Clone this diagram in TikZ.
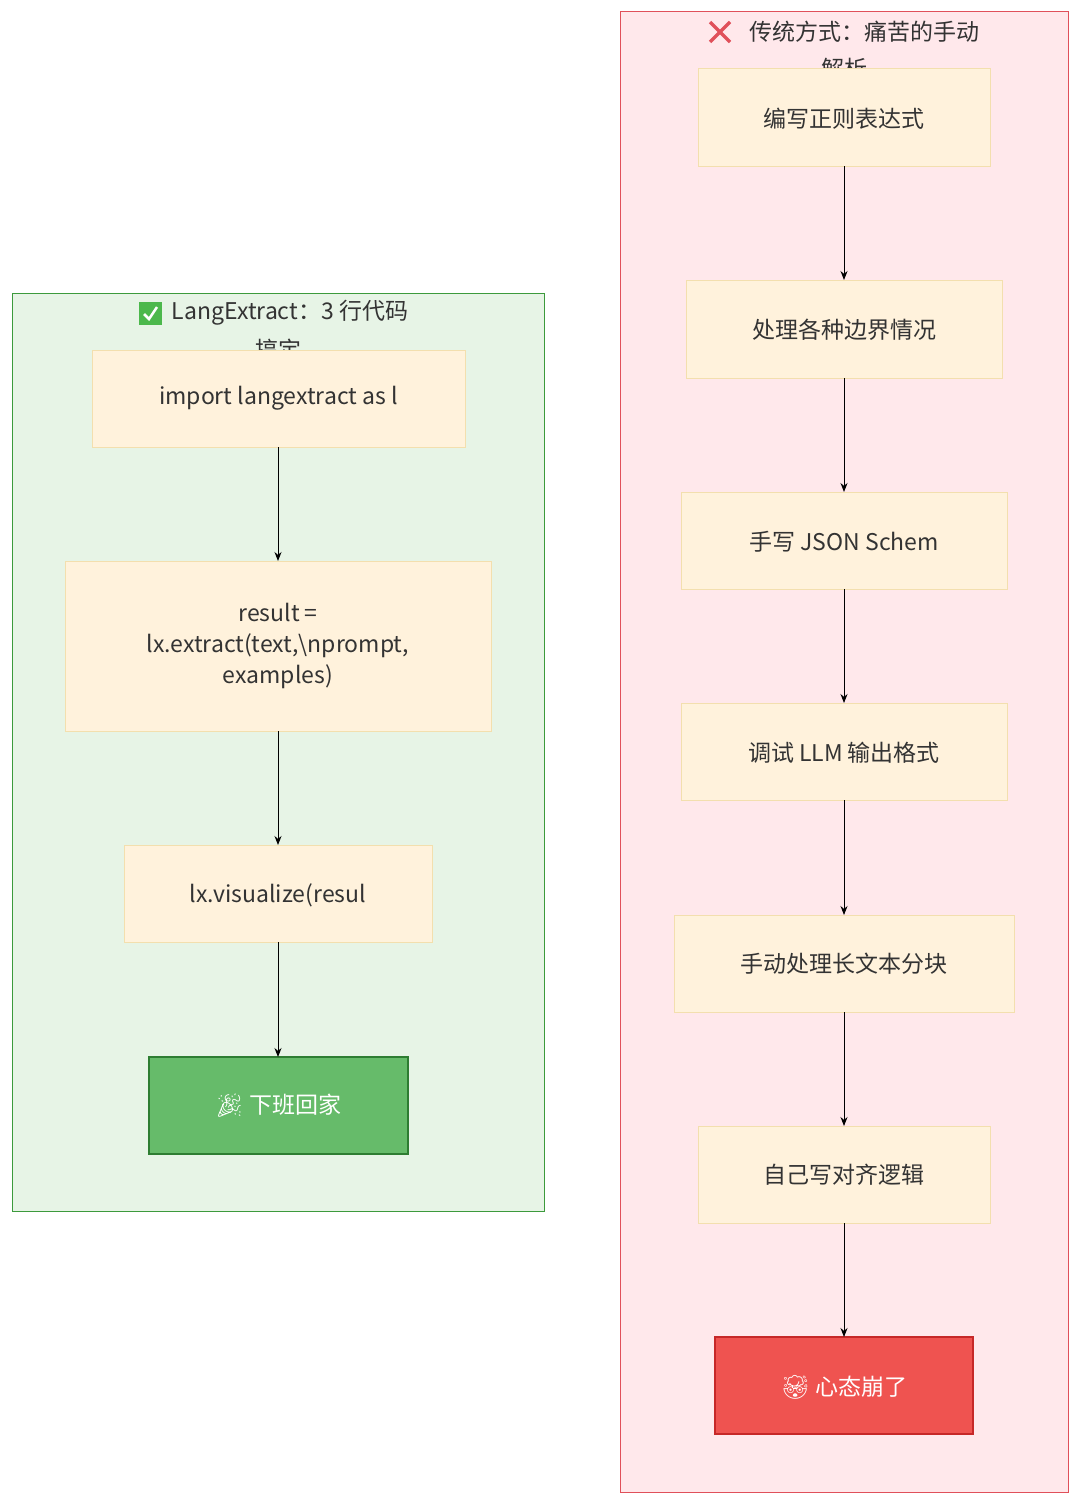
\documentclass[tikz,border=0pt]{standalone}
\usepackage{fontspec}
\setmainfont{Noto Sans CJK SC}
\newfontfamily\emo{Noto Emoji}
\usetikzlibrary{arrows.meta}
\definecolor{nodefill}{HTML}{FFF2DC}
\definecolor{nodeedge}{HTML}{F3DFAE}
\definecolor{gfill}{HTML}{E7F4E6}
\definecolor{gedge}{HTML}{3C9A3C}
\definecolor{rfill}{HTML}{FFE8EB}
\definecolor{redge}{HTML}{E0505A}
\definecolor{okfill}{HTML}{66BB6A}
\definecolor{okedge}{HTML}{2E7D32}
\definecolor{badfill}{HTML}{EF5350}
\definecolor{badedge}{HTML}{C62828}
\begin{document}
\begin{tikzpicture}[x=1pt,y=-1pt,
  box/.style={draw=nodeedge,fill=nodefill,line width=1pt},
  lbl/.style={font=\fontsize{23}{34}\selectfont,text=black!80,align=center},
  arr/.style={-{Stealth[length=9pt,width=7pt]},line width=1pt}]
\useasboundingbox (0,0) rectangle (1080,1504);
\fill[white] (0,0) rectangle (1080,1504);
% containers
\draw[fill=gfill,draw=gedge,line width=1pt] (12,293) rectangle (544,1211);
\draw[fill=rfill,draw=redge,line width=1pt] (620,12) rectangle (1068,1492);
% titles
\node[lbl,anchor=center] (tl) at (290,313) {LangExtract：3 行代码};
\node[lbl] (tl2) at (278,350) {搞定};
\fill[green!60!black!70] (139,302) rectangle (162,325);
\draw[white,line width=2.5pt] (144,314) -- (149,319) -- (157,307);
\node[lbl] (tr) at (864,32) {传统方式：痛苦的手动};
\node[lbl] (tr2) at (844,69) {解析};
\draw[redge,line width=3.5pt] (710,22) -- (730,42) (730,22) -- (710,42);
% left nodes
\draw[box] (92,350) rectangle (465,447); \node[lbl] (a1) at (278.5,398.5) {import langextract as l};
\draw[box] (65,561) rectangle (491,731); \node[lbl] (a2) at (278,646) {result =\\[-3pt]lx.extract(text,\textbackslash nprompt,\\[-3pt]examples)};
\draw[box] (124,845) rectangle (432,942); \node[lbl] (a3) at (278,895) {lx.visualize(resul};
\draw[draw=okedge,fill=okfill,line width=1.5pt] (149,1057) rectangle (408,1154); \node[lbl,text=white] (a4) at (278,1106) {{\emo 🎉}\ 下班回家};
\coordinate (a1b) at (278,447); \coordinate (a2t) at (278,561);
\coordinate (a2b) at (278,731); \coordinate (a3t) at (278,845);
\coordinate (a3b) at (278,942); \coordinate (a4t) at (278,1057);
\draw[arr] (a1b) -- (a2t); \draw[arr] (a2b) -- (a3t); \draw[arr] (a3b) -- (a4t);
% right nodes
\draw[box] (698,69) rectangle (990,166); \node[lbl] (b1) at (844,119) {编写正则表达式};
\draw[box] (686,280) rectangle (1002,378); \node[lbl] (b2) at (844,330) {处理各种边界情况};
\draw[box] (681,492) rectangle (1007,589); \node[lbl] (b3) at (844,542) {手写 JSON Schem};
\draw[box] (681,703) rectangle (1007,800); \node[lbl] (b4) at (844,753) {调试 LLM 输出格式};
\draw[box] (674,915) rectangle (1014,1012); \node[lbl] (b5) at (844,964) {手动处理长文本分块};
\draw[box] (698,1126) rectangle (990,1223); \node[lbl] (b6) at (844,1175) {自己写对齐逻辑};
\draw[draw=badedge,fill=badfill,line width=1.5pt] (715,1337) rectangle (973,1434); \node[lbl,text=white] (b7) at (844,1387) {{\emo 🤯}\ 心态崩了};
\foreach \t/\b [count=\i] in {166/280,378/492,589/703,800/915,1012/1126,1223/1337}{
  \coordinate (s\i) at (844,\t); \coordinate (e\i) at (844,\b);
  \draw[arr] (s\i) -- (e\i);}
\end{tikzpicture}
\end{document}
